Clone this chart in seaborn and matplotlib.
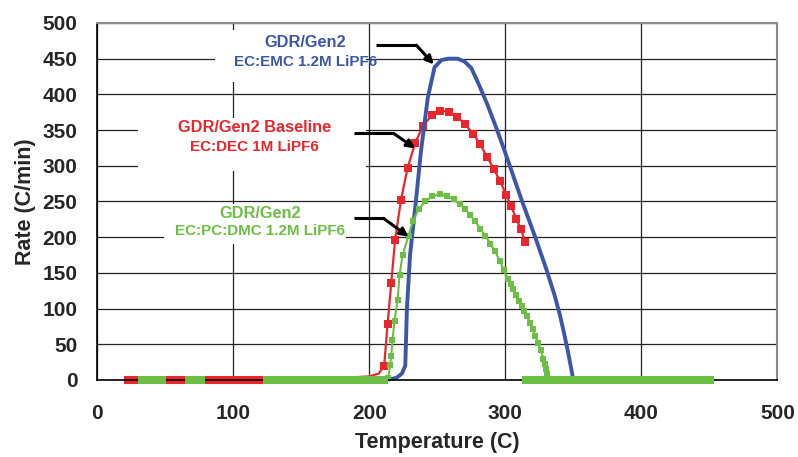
import matplotlib
matplotlib.use("Agg")
import matplotlib.pyplot as plt
from matplotlib.patches import Rectangle
from matplotlib.ticker import MultipleLocator
import seaborn as sns
import pandas as pd

# Self-heating rate curves (temperature in C, rate in C/min)
blue_temp = [200, 215, 220, 224, 226.5, 227.7, 230, 234, 238, 243, 248, 253, 258, 265,
             270, 275, 281, 287, 293, 300, 312, 322, 330, 336, 340, 343, 346, 348, 349.5, 350]
blue_rate = [0, 1, 3, 9, 20, 100, 175, 245, 320, 395, 438, 448, 450, 450,
             446, 437, 412, 385, 355, 318, 252, 200, 156, 120, 92, 67, 40, 20, 5, 0]

red_temp = [122, 150, 180, 200, 207, 211, 213.5, 216.2, 219, 223.3, 228.2, 233.8, 239.5,
            246.1, 252.2, 258.3, 264.5, 270.6, 276.2, 281.6, 286.5, 291.4, 296.3, 300.7,
            304.4, 308, 311.5, 314.7]
red_rate = [2, 2, 3, 5, 9, 20, 79, 136, 196, 252, 297, 332, 356,
            371, 377, 376, 369, 358, 345, 330, 313, 296, 278, 259,
            243, 226, 211, 193]

green_temp = [214, 215.4, 216.2, 217.1, 218.6, 220.8, 222.3, 224.5, 228.9, 232.1, 236.3,
              241.2, 246.1, 251.7, 257.1, 262, 266.4, 270.6, 274.3, 277.9, 281.6, 285.3,
              289, 292.6, 295.8, 298.8, 302, 304, 306, 308, 310, 312, 314, 316, 318, 320,
              322, 324, 326, 328, 329, 330, 331, 332]
green_rate = [3, 21, 34, 56, 83, 112, 147, 175, 202, 223, 239,
              250, 257, 260, 258, 253, 246, 239, 231, 222, 212, 202,
              191, 180, 167, 154, 141, 134, 127, 119, 111, 103, 96, 89, 80, 71,
              62, 52, 42, 30, 23, 16, 9, 2]

# Densely logged low-rate stretches (start, end temperature) at ~0 C/min
red_flat = [(20, 30), (51, 65), (79, 122)]
green_flat = [(30, 51), (65, 79), (122, 214), (312, 453)]

labels = {
    "blue": ("GDR/Gen2", "EC:EMC 1.2M LiPF6"),
    "red": ("GDR/Gen2 Baseline", "EC:DEC 1M LiPF6"),
    "green": ("GDR/Gen2", "EC:PC:DMC 1.2M LiPF6"),
}

x_ticks = [0, 100, 200, 300, 400, 500]
y_ticks = [0, 50, 100, 150, 200, 250, 300, 350, 400, 450, 500]

BLUE = "#3D57A8"
RED = "#E8262B"
GREEN = "#6CBE45"

sns.set_theme(style="white")
plt.rcParams["font.family"] = ["Liberation Sans", "DejaVu Sans"]
plt.rcParams["font.weight"] = "bold"

fig = plt.figure(figsize=(7.98, 4.57), dpi=100)
ax = fig.add_axes([0.1216, 0.1685, 0.8527, 0.7812])

df_red = pd.DataFrame({"t": red_temp, "r": red_rate})
df_blue = pd.DataFrame({"t": blue_temp, "r": blue_rate})
df_green = pd.DataFrame({"t": green_temp, "r": green_rate})

# flat stretches drawn as thick bands straddling the axis
for a, b in red_flat:
    ax.plot([a, b], [0, 0], color=RED, lw=5.8, solid_capstyle="butt",
            zorder=2.1, clip_on=False)
for a, b in green_flat:
    ax.plot([a, b], [0, 0], color=GREEN, lw=5.8, solid_capstyle="butt",
            zorder=2.6, clip_on=False)

sns.lineplot(data=df_red, x="t", y="r", ax=ax, sort=False, estimator=None,
             color=RED, lw=1.6, marker="s", markersize=5.2, markeredgewidth=0,
             markevery=list(range(5, len(red_temp))), zorder=2.2, clip_on=False)
sns.lineplot(data=df_blue, x="t", y="r", ax=ax, sort=False, estimator=None,
             color=BLUE, lw=2.8, zorder=2.3, clip_on=False)
sns.lineplot(data=df_green, x="t", y="r", ax=ax, sort=False, estimator=None,
             color=GREEN, lw=1.5, marker="s", markersize=5.0, markeredgewidth=0,
             zorder=2.5, clip_on=False)

ax.set_xlim(0, 500)
ax.set_ylim(0, 500)
ax.set_xticks(x_ticks)
ax.set_yticks(y_ticks)
ax.xaxis.set_minor_locator(MultipleLocator(20))
ax.yaxis.set_minor_locator(MultipleLocator(10))
ax.tick_params(axis="both", which="both", direction="in", color="black", width=1)
ax.tick_params(axis="both", which="major", length=5, labelsize=15)
ax.tick_params(axis="both", which="minor", length=4)
ax.tick_params(axis="y", which="major", pad=14)
ax.tick_params(axis="x", which="major", pad=17)
ax.tick_params(axis="x", which="both", top=False)
ax.tick_params(axis="y", which="both", right=False)
for lab in ax.get_xticklabels() + ax.get_yticklabels():
    lab.set_fontweight("bold")

ax.grid(True, which="major", color="#222222", lw=0.9)
ax.set_axisbelow(True)
for side in ("left", "bottom"):
    ax.spines[side].set_color("black")
    ax.spines[side].set_linewidth(1.2)
for side in ("top", "right"):
    ax.spines[side].set_color("#8a8a8a")
    ax.spines[side].set_linewidth(1.5)

ax.set_xlabel("Temperature (C)", fontsize=15.5, fontweight="bold", labelpad=7)
ax.set_ylabel("Rate (C/min)", fontsize=15.5, fontweight="bold", labelpad=5)

# series captions, each on its own white text box
def caption(x, y1, y2, lines, color, box):
    x0, x1, r0, r1 = box
    ax.add_patch(Rectangle((x0, r0), x1 - x0, r1 - r0, facecolor="white",
                           edgecolor="none", zorder=1.5))
    ax.text(x, y1, lines[0], color=color, fontsize=11.8, fontweight="bold",
            ha="center", va="center", zorder=3)
    ax.text(x, y2, lines[1], color=color, fontsize=10.9, fontweight="bold",
            ha="center", va="center", zorder=3)

caption(152.9, 472, 446, labels["blue"], BLUE, (87, 198, 418, 490))
caption(115.5, 353, 327, labels["red"], RED, (30, 198, 293, 367))
caption(119.8, 233.5, 208, labels["green"], GREEN, (49, 183, 190, 246))

# pointer arrows
def pointer(start, knee, tip):
    ax.plot([start[0], knee[0]], [start[1], knee[1]], color="black", lw=2.2,
            solid_capstyle="butt", zorder=5)
    ax.annotate("", xy=tip, xytext=knee,
                arrowprops=dict(arrowstyle="-|>", color="black", lw=2.2,
                                mutation_scale=12, shrinkA=0, shrinkB=0),
                zorder=5)

pointer((205, 469), (234.6, 469), (247.4, 442))
pointer((188.5, 345.4), (217.9, 345.4), (233.8, 324.4))
pointer((188.5, 226.4), (210.5, 226.4), (228.9, 200.7))

fig.savefig("out.png", dpi=100)
